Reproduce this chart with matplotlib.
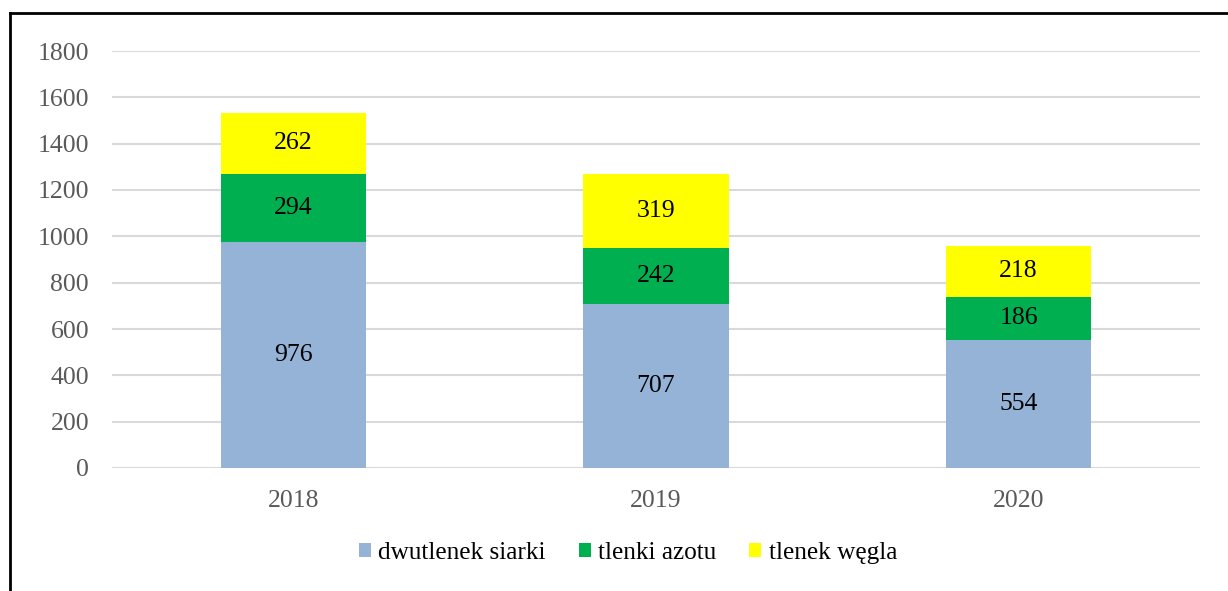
import matplotlib
matplotlib.use('Agg')
import matplotlib.pyplot as plt
from matplotlib.lines import Line2D
import numpy as np

years = ['2018', '2019', '2020']
so2 = [976, 707, 554]
nox = [294, 242, 186]
co = [262, 319, 218]
series = [('dwutlenek siarki', so2, '#95B3D7'),
          ('tlenki azotu', nox, '#00B050'),
          ('tlenek węgla', co, '#FFFF00')]

plt.rcParams['font.family'] = ['Liberation Serif', 'DejaVu Serif']
FS = 18.5

W, H = 1228, 591
fig = plt.figure(figsize=(W / 100, H / 100), dpi=100)
ax = fig.add_axes([112 / W, (H - 468) / H, (1200 - 112) / W, (468 - 51) / H])

x = np.arange(len(years))
bottom = np.zeros(len(years))
for label, vals, color in series:
    ax.bar(x, vals, width=0.4, bottom=bottom, color=color, label=label, zorder=3)
    for xi, b, v in zip(x, bottom, vals):
        ax.text(xi, b + v / 2, str(v), ha='center', va='center', fontsize=FS,
                color='black', zorder=4)
    bottom = bottom + np.array(vals)

ax.set_xlim(-0.5, 2.5)
ax.set_ylim(0, 1800)
ax.set_yticks(range(0, 1801, 200))
ax.set_xticks(x)
ax.set_xticklabels(years)
ax.tick_params(axis='both', length=0, labelsize=FS, colors='#595959')
ax.tick_params(axis='y', pad=16.5)
ax.tick_params(axis='x', pad=15.5)
ax.grid(axis='y', color='#D9D9D9', linewidth=1.5, zorder=0)
for s in ax.spines.values():
    s.set_visible(False)

leg = fig.legend(loc='center', bbox_to_anchor=(628 / W, (H - 553) / H), ncol=3,
                 frameon=False, fontsize=18.2, handlelength=0.47, handleheight=0.47,
                 handletextpad=0.3, columnspacing=1.3)

# outer border (only top and left visible in the crop)
fig.add_artist(Line2D([10 / W, 10 / W], [0, (H - 13) / H], transform=fig.transFigure,
                      color='black', linewidth=2))
fig.add_artist(Line2D([10 / W, 1], [(H - 13) / H, (H - 13) / H], transform=fig.transFigure,
                      color='black', linewidth=2))

fig.savefig('out.png', dpi=100)
